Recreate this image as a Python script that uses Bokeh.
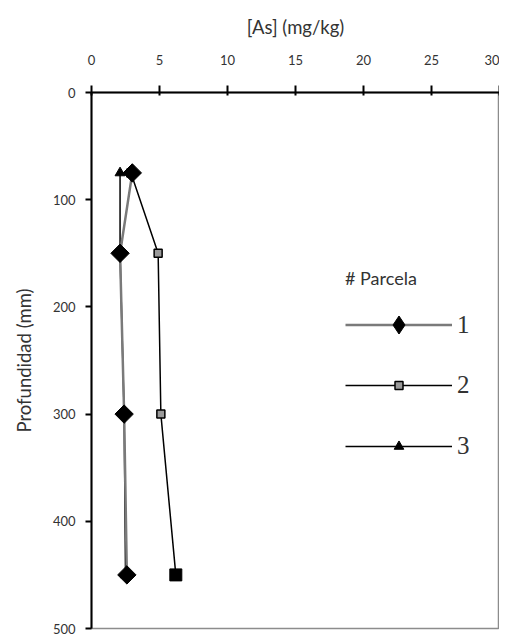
import math
from bokeh.plotting import figure
from bokeh.models import Range1d, FixedTicker, Legend, LegendItem
from bokeh.embed import file_html
from bokeh.resources import INLINE

# ---- data ----
depth = [75, 150, 300, 450]          # Profundidad (mm)
as_1 = [3.0, 2.1, 2.4, 2.6]          # Parcela 1
as_2 = [2.9, 4.9, 5.1, 6.2]          # Parcela 2
as_3 = [2.1, 2.1, 2.4, 2.5]          # Parcela 3
x_ticks = [0, 5, 10, 15, 20, 25, 30]
y_ticks = [0, 100, 200, 300, 400, 500]
series_labels = ["1", "2", "3"]
legend_title = "# Parcela"

SANS = "Lato"
SERIF = "Liberation Serif"
TXT = "#333333"

p = figure(width=499, height=635, output_backend="svg", toolbar_location=None,
           x_range=Range1d(0, 30), y_range=Range1d(500, 0),
           x_axis_location="above", min_border_left=91, min_border_top=92,
           min_border_right=0, min_border_bottom=7)
p.grid.visible = False
p.background_fill_color = "white"
p.border_fill_color = "white"
p.outline_line_color = "#8c8c8c"
p.outline_line_width = 1.5

xa = p.xaxis[0]
xa.ticker = FixedTicker(ticks=x_ticks)
xa.minor_tick_line_color = None
xa.axis_label = "[As] (mg/kg)"
xa.axis_label_text_font = SANS
xa.axis_label_text_font_style = "normal"
xa.axis_label_text_font_size = "18.5px"
xa.axis_label_text_color = TXT
xa.axis_label_standoff = 14
xa.major_label_text_font = SANS
xa.major_label_text_font_size = "13px"
xa.major_label_text_color = TXT
xa.major_label_standoff = 21
xa.axis_line_width = 2
xa.axis_line_color = "black"
xa.major_tick_line_width = 2
xa.major_tick_in = 3
xa.major_tick_out = 7

ya = p.yaxis[0]
ya.ticker = FixedTicker(ticks=y_ticks)
ya.minor_tick_line_color = None
ya.axis_label = "Profundidad (mm)"
ya.axis_label_text_font = SANS
ya.axis_label_text_font_style = "normal"
ya.axis_label_text_font_size = "18.5px"
ya.axis_label_text_color = TXT
ya.axis_label_standoff = 15
ya.major_label_text_font = SANS
ya.major_label_text_font_size = "13px"
ya.major_label_text_color = TXT
ya.major_label_standoff = 10
ya.axis_line_width = 2
ya.axis_line_color = "black"
ya.major_tick_line_width = 2
ya.major_tick_in = 0
ya.major_tick_out = 6

# series 3 (triangles)
l3 = p.line(as_3, depth, line_color="black", line_width=1.5)
s3 = p.scatter(as_3, depth, marker="triangle", size=10, fill_color="black", line_color="black")
# series 2 (squares)
l2 = p.line(as_2, depth, line_color="black", line_width=1.5)
s2 = p.scatter(as_2, depth, marker="square", size=8, fill_color="#9a9a9a", line_color="black", line_width=1.5)
p.scatter(as_2[-1:], depth[-1:], marker="square", size=12, fill_color="black", line_color="black")
# series 1 (diamonds)
l1 = p.line(as_1, depth, line_color="#7a7a7a", line_width=2.5)
# diamond glyph used for the legend (covered by the turned squares below)
s1_leg = p.scatter(as_1, depth, marker="diamond", size=17, fill_color="black", line_color="black")
s1 = p.scatter(as_1, depth, marker="square", angle=math.pi / 4, size=13,
               fill_color="black", line_color="black")


def make_legend(item, loc, glyph_h, title=None, standoff=0):
    lg = Legend(items=[item], location=loc, orientation="vertical")
    if title:
        lg.title = title
        lg.title_text_font = SANS
        lg.title_text_font_style = "normal"
        lg.title_text_font_size = "18px"
        lg.title_text_color = TXT
        lg.title_standoff = standoff
    lg.label_text_font = SERIF
    lg.label_text_font_size = "25px"
    lg.label_text_color = TXT
    lg.label_standoff = 5
    lg.glyph_width = 107
    lg.glyph_height = glyph_h
    lg.label_height = 30
    lg.padding = 0
    lg.margin = 0
    lg.border_line_color = None
    lg.background_fill_alpha = 0
    p.add_layout(lg, "center")
    return lg


make_legend(LegendItem(label=series_labels[0], renderers=[l1, s1_leg]), (254, 281), 45,
            title=legend_title, standoff=13)
make_legend(LegendItem(label=series_labels[1], renderers=[l2, s2]), (254, 228), 20)
make_legend(LegendItem(label=series_labels[2], renderers=[l3, s3]), (254, 167), 24)

open("out.html", "w").write(file_html(p, INLINE))
